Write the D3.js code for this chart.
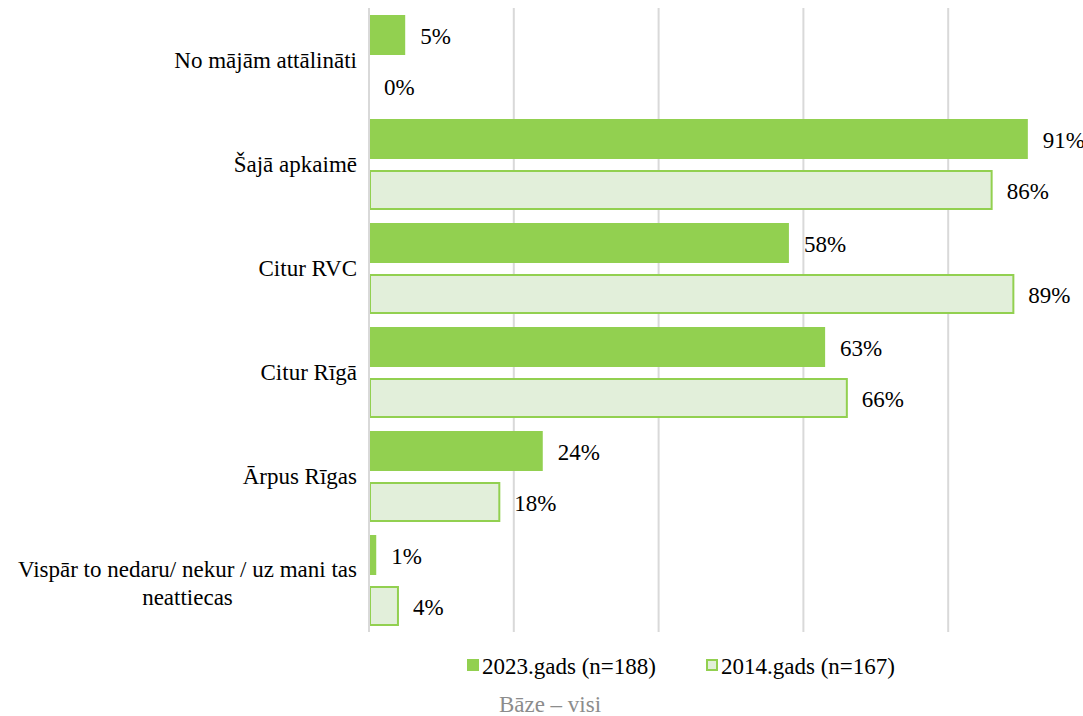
<!DOCTYPE html>
<html>
<head>
<meta charset="utf-8">
<script src="https://cdn.jsdelivr.net/npm/d3@7"></script>
<style>
  html, body { margin: 0; padding: 0; background: #fff; }
  svg { display: block; font-family: "Liberation Serif", "Times New Roman", serif; }
</style>
</head>
<body>
<svg id="chart" width="1083" height="716"></svg>
<script>
// Categories (top to bottom); the last label wraps onto two lines
const categories = [
  ["No mājām attālināti"],
  ["Šajā apkaimē"],
  ["Citur RVC"],
  ["Citur Rīgā"],
  ["Ārpus Rīgas"],
  ["Vispār to nedaru/ nekur / uz mani tas", "neattiecas"]
];
const values2023 = [5, 91, 58, 63, 24, 1];
const values2014 = [0, 86, 89, 66, 18, 4];
const seriesNames = ["2023.gads (n=188)", "2014.gads (n=167)"];
const gridTicks = [0, 20, 40, 60, 80, 100];
const baseNote = "Bāze – visi";

const svg = d3.select("#chart");

const plot = { left: 369, right: 1093, top: 8, bottom: 632 };

const x = d3.scaleLinear().domain([0, 100]).range([plot.left, plot.right]);
const y = d3.scaleBand().domain(d3.range(categories.length)).range([plot.top, plot.bottom]);

const barH = 40;
const offset2023 = 7;
const offset2014 = 58;

const green = "#92D050";
const lightFill = "#E2EFDA";
const fontSize = 23;

// vertical gridlines
svg.append("g").selectAll("line")
  .data(gridTicks.slice(1))
  .join("line")
  .attr("x1", d => x(d)).attr("x2", d => x(d))
  .attr("y1", plot.top).attr("y2", plot.bottom)
  .attr("stroke", "#D9D9D9").attr("stroke-width", 2);

// 2023 bars
svg.append("g").selectAll("rect")
  .data(values2023)
  .join("rect")
  .attr("x", x(0))
  .attr("y", (d, i) => y(i) + offset2023)
  .attr("width", d => x(d) - x(0))
  .attr("height", barH)
  .attr("fill", green);

// 2014 bars (outlined)
svg.append("g").selectAll("rect")
  .data(values2014)
  .join("rect")
  .attr("x", x(0) + 1)
  .attr("y", (d, i) => y(i) + offset2014 + 1)
  .attr("width", d => Math.max(0, x(d) - x(0) - 1))
  .attr("height", barH - 2)
  .attr("fill", lightFill)
  .attr("stroke", green)
  .attr("stroke-width", 2)
  .attr("display", d => d > 0 ? null : "none");

// category axis line
svg.append("line")
  .attr("x1", x(0)).attr("x2", x(0))
  .attr("y1", plot.top).attr("y2", plot.bottom)
  .attr("stroke", "#D9D9D9").attr("stroke-width", 2);

// value labels
const labelStyle = sel => sel
  .attr("font-size", fontSize)
  .attr("fill", "#000")
  .attr("dominant-baseline", "central");

svg.append("g").selectAll("text")
  .data(values2023)
  .join("text")
  .attr("x", d => x(d) + 15)
  .attr("y", (d, i) => y(i) + offset2023 + barH / 2 + 1)
  .text(d => d + "%")
  .call(labelStyle);

svg.append("g").selectAll("text")
  .data(values2014)
  .join("text")
  .attr("x", d => x(d) + 15)
  .attr("y", (d, i) => y(i) + offset2014 + barH / 2 + 1)
  .text(d => d + "%")
  .call(labelStyle);

// category labels
const catG = svg.append("g");
categories.forEach((lines, i) => {
  const cy = y(i) + y.bandwidth() / 2;
  const lh = 28;
  if (lines.length === 1) {
    catG.append("text")
      .attr("x", 357).attr("y", cy)
      .attr("text-anchor", "end")
      .text(lines[0])
      .call(labelStyle);
  } else {
    const t = catG.append("text")
      .attr("x", 357).attr("y", cy - lh / 2 + 3)
      .attr("text-anchor", "end")
      .text(lines[0])
      .call(labelStyle);
    const w = t.node().getComputedTextLength();
    catG.append("text")
      .attr("x", 357 - w / 2).attr("y", cy + lh / 2 + 3)
      .attr("text-anchor", "middle")
      .text(lines[1])
      .call(labelStyle);
  }
});

// legend
const legend = svg.append("g");
const legendItems = [
  { name: seriesNames[0], x: 467, fill: green, stroke: "none" },
  { name: seriesNames[1], x: 706, fill: lightFill, stroke: green }
];
legendItems.forEach(it => {
  legend.append("rect")
    .attr("x", it.x + (it.stroke === "none" ? 0 : 1))
    .attr("y", 659 + (it.stroke === "none" ? 0 : 1))
    .attr("width", it.stroke === "none" ? 12 : 10)
    .attr("height", it.stroke === "none" ? 12 : 10)
    .attr("fill", it.fill)
    .attr("stroke", it.stroke)
    .attr("stroke-width", 2);
  legend.append("text")
    .attr("x", it.x + 15).attr("y", 666)
    .text(it.name)
    .call(labelStyle);
});

// base note
svg.append("text")
  .attr("x", 550).attr("y", 704)
  .attr("text-anchor", "middle")
  .attr("dominant-baseline", "central")
  .attr("font-size", fontSize)
  .attr("fill", "#8C8C8C")
  .text(baseNote);
</script>
</body>
</html>
